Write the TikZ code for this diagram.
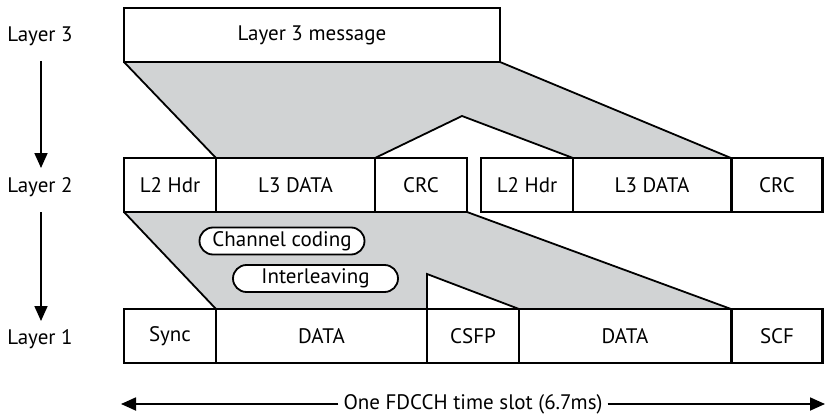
\documentclass[tikz,border=0pt]{standalone}
\usepackage{fontspec}
\setmainfont{PT Sans}
\usetikzlibrary{arrows.meta}
\definecolor{panelgray}{RGB}{209,211,212}
\pgfdeclarelayer{background}
\pgfsetlayers{background,main}
\tikzset{
  txt/.style={font=\fontsize{21}{24}\selectfont},
  cell/.style={draw=black, fill=white, line width=2.8pt, inner sep=0pt, outer sep=0pt,
               minimum height=54pt, txt},
  lbl/.style={inner sep=0pt, txt},
  edge/.style={line width=1.8pt, line join=miter},
  proc/.style={draw=black, fill=white, line width=1.8pt, rounded corners=13.5pt, inner sep=0pt,
               minimum width=165pt, minimum height=27pt, txt},
  arr/.style={line width=1.8pt, -{Triangle[length=15pt,width=13pt]}},
}
\begin{document}
\begin{tikzpicture}[x=1pt,y=-1pt]
\useasboundingbox (0,0) rectangle (825,420);
% layer labels
\node[lbl] (lab3) at (40,36) {Layer 3};
\node[lbl] (lab2) at (40,187) {Layer 2};
\node[lbl] (lab1) at (40,339) {Layer 1};
\coordinate (a1s) at (41,61);
\coordinate (a1e) at (41,168);
\coordinate (a2s) at (41,212);
\coordinate (a2e) at (41,321);
\draw[arr] (a1s) -- (a1e);
\draw[arr] (a2s) -- (a2e);

% Layer 3
\node[cell, minimum width=376pt] (msg) at (312,35) {Layer 3 message};

% Layer 2 row
\node[cell, minimum width=92pt]  (hA)  at (170,185) {L2 Hdr};
\node[cell, minimum width=159pt] (dA)  at (295.5,185) {L3 DATA};
\node[cell, minimum width=92pt]  (cA)  at (421,185) {CRC};
\node[cell, minimum width=92pt]  (hB)  at (527,185) {L2 Hdr};
\node[cell, minimum width=158pt] (dB)  at (652,185) {L3 DATA};
\node[cell, minimum width=91.5pt](cB)  at (777,185) {CRC};

% Layer 1 row
\node[cell, minimum width=92pt]  (sy)  at (170,336) {Sync};
\node[cell, minimum width=211pt] (d1)  at (321.5,336) {DATA};
\node[cell, minimum width=92pt]  (cs)  at (473,336) {CSFP};
\node[cell, minimum width=212pt] (d2)  at (625,336) {DATA};
\node[cell, minimum width=91.5pt](sc)  at (777,336) {SCF};

% shaded regions (behind the cells)
\coordinate (peak) at (462,116);
\coordinate (notch) at (427,274);
\begin{pgfonlayer}{background}
\fill[panelgray] (msg.south west) -- (msg.south east) -- (dB.north east) -- (dB.north west)
  -- (peak) -- (cA.north west) -- (dA.north west) -- cycle;
\draw[edge] (msg.south west) -- (dA.north west);
\draw[edge] (msg.south east) -- (dB.north east);
\draw[edge] (cA.north west) -- (peak) -- (dB.north west);

\fill[panelgray] (hA.south west) -- (cA.south east) -- (d2.north east) -- (d2.north west)
  -- (notch) -- (cs.north west) -- (d1.north west) -- cycle;
\draw[edge] (hA.south west) -- (d1.north west);
\draw[edge] (cA.south east) -- (d2.north east);
\draw[edge] (cs.north west) -- (notch) -- (d2.north west);
\end{pgfonlayer}

% process labels
\node[proc] (cc) at (282,241) {Channel coding};
\node[proc] (il) at (315.5,278.5) {Interleaving};

% time slot arrow
\node[lbl, inner sep=5pt] (slot) at (473,404) {One FDCCH time slot (6.7ms)};
\coordinate (tl) at (121,404);
\coordinate (tr) at (825,404);
\draw[arr] (slot.west) -- (tl);
\draw[arr] (slot.east) -- (tr);
\end{tikzpicture}
\end{document}
